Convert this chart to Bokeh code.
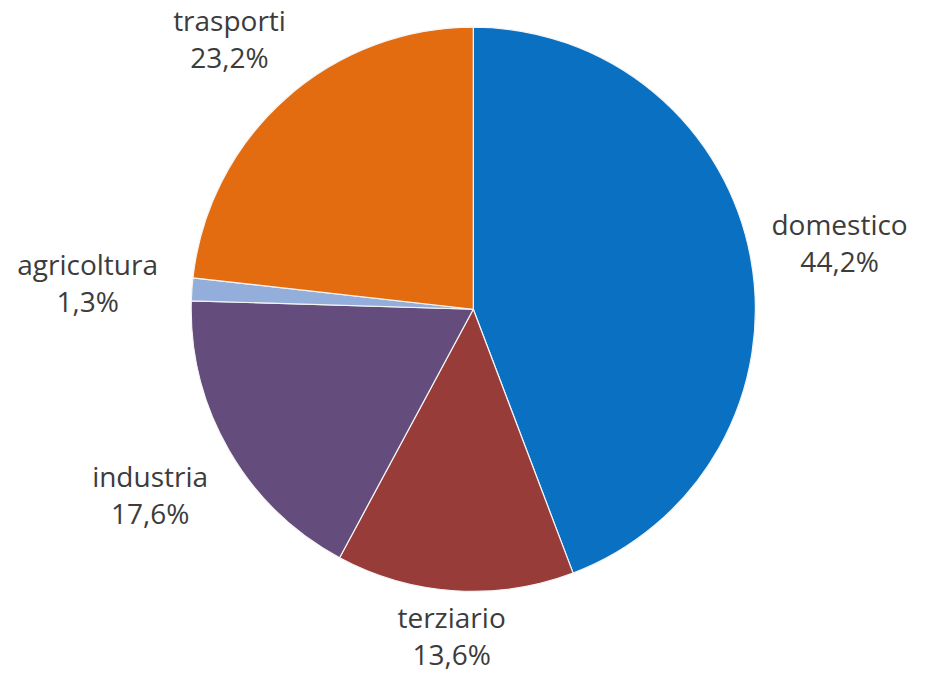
import math
from bokeh.plotting import figure
from bokeh.models import Range1d, ColumnDataSource
from bokeh.core.properties import value
from bokeh.embed import file_html
from bokeh.resources import INLINE

# ---- data ----
categories = ["domestico", "terziario", "industria", "agricoltura", "trasporti"]
shares = [44.2, 13.6, 17.6, 1.3, 23.2]
pct_labels = ["44,2%", "13,6%", "17,6%", "1,3%", "23,2%"]
colors = ["#0a70c2", "#983c3a", "#644c7c", "#94aedb", "#e46c10"]

# ---- layout (reference-pixel coordinate system, y flipped) ----
W, H = 921, 682
REF_W, REF_H = 937, 698
CX, CY = 481, REF_H - 316
R = 287
FONT = "Open Sans"
FS = 28
LINE = 38

total = sum(shares)
starts, ends, mids = [], [], []
acc = 0.0
for s in shares:
    a0 = math.pi / 2 - 2 * math.pi * acc / total
    acc += s
    a1 = math.pi / 2 - 2 * math.pi * acc / total
    starts.append(a0)
    ends.append(a1)
    mids.append((a0 + a1) / 2)

src = ColumnDataSource(dict(start=starts, end=ends, color=colors))

p = figure(width=W, height=H, x_range=Range1d(0, REF_W), y_range=Range1d(0, REF_H),
           output_backend="svg", toolbar_location=None, min_border=0)
p.axis.visible = False
p.grid.visible = False
p.outline_line_color = None
p.background_fill_color = "white"
p.border_fill_color = "white"

p.wedge(x=CX, y=CY, radius=R, start_angle="start", end_angle="end", direction="clock",
        fill_color="color", line_color="#f4f4f4", line_width=1.2, source=src)

# label placement: outside each wedge along the mid-angle
lx, ly1, ly2 = [], [], []
gap = 12
for cat, m in zip(categories, mids):
    dx, dy = math.cos(m), math.sin(m)
    w = len(cat) * 0.6 * FS
    h = 1.6 * LINE
    d = R + gap + abs(dx) * w / 2 + abs(dy) * h / 2
    x = CX + d * dx
    y = CY + d * dy
    lx.append(x)
    ly1.append(y + LINE / 2)
    ly2.append(y - LINE / 2)

p.text(x=lx, y=ly1, text=categories, text_align="center", text_baseline="middle",
       text_font=value(FONT), text_font_size=f"{FS}px", text_color="#3c3c3c")
p.text(x=lx, y=ly2, text=pct_labels, text_align="center", text_baseline="middle",
       text_font=value(FONT), text_font_size=f"{FS}px", text_color="#3c3c3c")

open("out.html", "w").write(file_html(p, INLINE))
